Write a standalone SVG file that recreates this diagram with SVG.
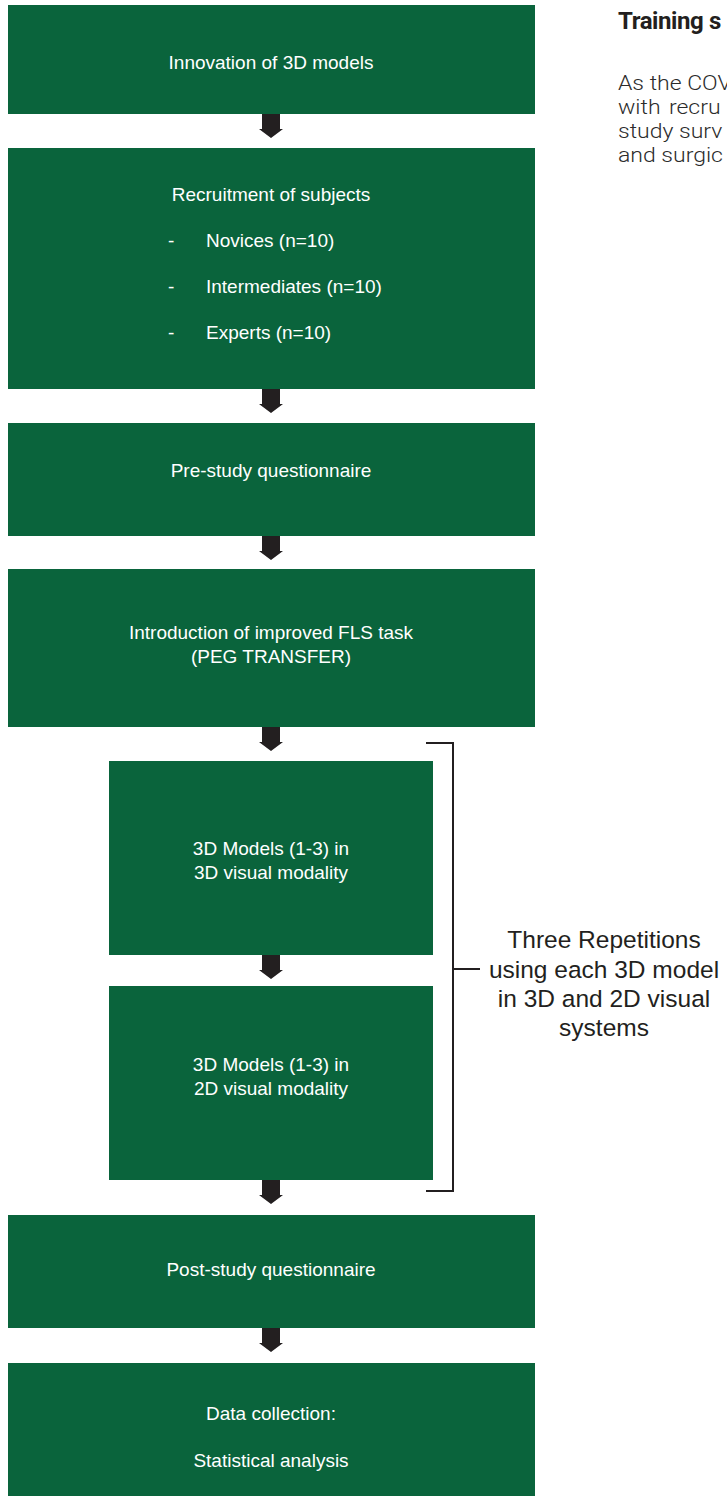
<svg xmlns="http://www.w3.org/2000/svg" width="727" height="1496" viewBox="0 0 727 1496">
<defs>
<style>
.box{fill:#0a643c;}
.t{font-family:"Liberation Sans",Arial,sans-serif;font-size:19px;fill:#ffffff;}
.c{text-anchor:middle;}
.arr{fill:#231f20;}
.br{fill:none;stroke:#231f20;stroke-width:2;}
.side{font-family:"Liberation Sans",Arial,sans-serif;font-size:24.5px;fill:#231f20;text-anchor:middle;}
.title{font-family:Roboto,"Liberation Sans",sans-serif;font-weight:700;font-size:24px;fill:#231f20;letter-spacing:-0.4px;}
.body{font-family:Roboto,"Liberation Sans",sans-serif;font-weight:300;font-size:20px;fill:#2b2b2b;}
</style>
<path id="arrow" d="M262 0 H280 V15 H283 L271 24 L259 15 H262 Z"/>
</defs>
<rect width="727" height="1496" fill="#ffffff"/>

<g id="connectors">
<use href="#arrow" class="arr" y="114"/>
<use href="#arrow" class="arr" y="389"/>
<use href="#arrow" class="arr" y="536"/>
<use href="#arrow" class="arr" y="727"/>
<use href="#arrow" class="arr" y="955"/>
<use href="#arrow" class="arr" y="1180"/>
<use href="#arrow" class="arr" y="1328"/>
<path class="br" d="M426 743 H453 V1191 H426 M453 969 H480"/>
</g>

<g id="n1"><rect class="box" x="8" y="5" width="527" height="109"/>
<text class="t c" x="271" y="69">Innovation of 3D models</text></g>

<g id="n2"><rect class="box" x="8" y="148" width="527" height="241"/>
<text class="t c" x="271" y="201">Recruitment of subjects</text>
<text class="t" x="168" y="247">-</text><text class="t" x="206" y="247">Novices (n=10)</text>
<text class="t" x="168" y="293">-</text><text class="t" x="206" y="293">Intermediates (n=10)</text>
<text class="t" x="168" y="339">-</text><text class="t" x="206" y="339">Experts (n=10)</text></g>

<g id="n3"><rect class="box" x="8" y="423" width="527" height="113"/>
<text class="t c" x="271" y="477">Pre-study questionnaire</text></g>

<g id="n4"><rect class="box" x="8" y="569" width="527" height="158"/>
<text class="t c" x="271" y="639">Introduction of improved FLS task</text>
<text class="t c" x="271" y="663">(PEG TRANSFER)</text></g>

<g id="n5"><rect class="box" x="109" y="761" width="324" height="194"/>
<text class="t c" x="271" y="855">3D Models (1-3) in</text>
<text class="t c" x="271" y="879">3D visual modality</text></g>

<g id="n6"><rect class="box" x="109" y="986" width="324" height="194"/>
<text class="t c" x="271" y="1071">3D Models (1-3) in</text>
<text class="t c" x="271" y="1095">2D visual modality</text></g>

<g id="n7"><rect class="box" x="8" y="1215" width="527" height="113"/>
<text class="t c" x="271" y="1276">Post-study questionnaire</text></g>

<g id="n8"><rect class="box" x="8" y="1363" width="527" height="140"/>
<text class="t c" x="271" y="1420">Data collection:</text>
<text class="t c" x="271" y="1467">Statistical analysis</text></g>

<g id="bracket-label">
<text class="side" x="604" y="948">Three Repetitions</text>
<text class="side" x="604" y="978">using each 3D model</text>
<text class="side" x="604" y="1007">in 3D and 2D visual</text>
<text class="side" x="604" y="1036">systems</text>
</g>

<g id="side-text">
<text class="title" x="618" y="29">Training s</text>
<text class="body" transform="translate(618,90) scale(1.15,1)">As the COV</text>
<text class="body" transform="translate(618,114) scale(1.15,1)"><tspan x="0">with</tspan><tspan x="44.3">recru</tspan></text>
<text class="body" transform="translate(618,138) scale(1.15,1)">study surv</text>
<text class="body" transform="translate(618,162) scale(1.15,1)">and surgic</text>
</g>
</svg>
